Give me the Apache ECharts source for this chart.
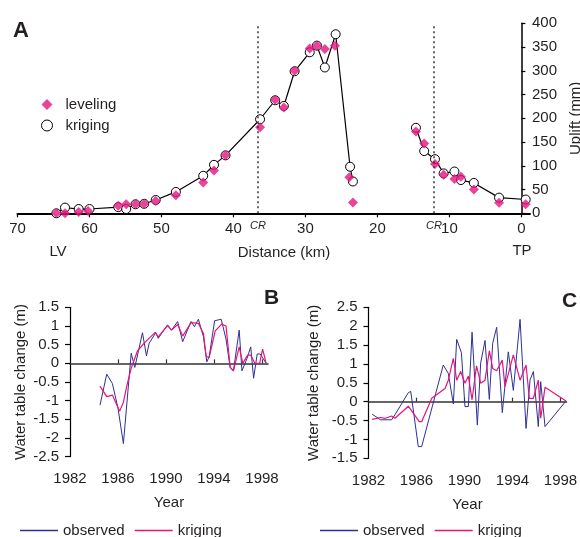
<!DOCTYPE html>
<html>
<head>
<meta charset="utf-8">
<script src="https://cdn.jsdelivr.net/npm/echarts@6/dist/echarts.min.js"></script>
<style>html,body{margin:0;padding:0;background:#fff}#c{width:580px;height:537px}</style>
</head>
<body>
<div id="c"></div>
<script>
// ---------- Panel A: uplift profile ----------
const distanceTicks = [0, 10, 20, 30, 40, 50, 60, 70];
const levelingKm = [64.6, 63.4, 61.5, 60.2, 56.0, 54.9, 53.6, 52.4, 50.8, 48.0, 44.2, 42.7, 41.1, 36.3, 34.2, 33.0, 31.5, 29.4, 28.4, 27.3, 25.9, 23.9, 23.4, 14.65, 13.5, 12.0, 10.8, 9.3, 8.4, 6.6, 3.1, -0.6];
const levelingMm = [0, 0, 3, 5, 16, 19, 19, 20, 26, 38, 65, 90, 122, 181, 239, 223, 300, 347, 353, 346, 353, 76, 23, 172, 147, 104, 81, 72, 77, 50, 22, 19];
const krigingWestKm = [64.6, 63.4, 61.5, 60.0, 56.0, 54.9, 53.6, 52.4, 50.8, 48.0, 44.2, 42.7, 41.1, 36.3, 34.2, 33.0, 31.5, 29.4, 28.4, 27.3, 25.8, 23.8, 23.4];
const krigingWestMm = [0, 12, 9, 9, 13, 9, 19, 20, 28, 45, 79, 102, 122, 198, 238, 226, 299, 339, 353, 307, 377, 98, 67];
const krigingEastKm = [14.65, 13.5, 12.0, 10.8, 9.3, 8.4, 6.6, 3.1, -0.6];
const krigingEastMm = [180, 131, 114, 84, 88, 70, 64, 33, 29];
const crKm = [36.6, 12.15];

// ---------- Panel B ----------
const yearTicks = [1982, 1986, 1990, 1994, 1998];
const zeroTicks = [1986, 1990, 1994, 1998];
const bObsYear = [1984.5, 1985.06, 1985.53, 1986.0, 1986.45, 1987.1, 1987.4, 1988.04, 1988.37, 1988.6, 1989.15, 1989.35, 1990.13, 1990.46, 1990.97, 1991.39, 1992.09, 1992.37, 1992.7, 1993.12, 1993.4, 1993.6, 1994.05, 1994.6, 1995.0, 1995.35, 1995.62, 1996.1, 1996.33, 1996.75, 1997.06, 1997.3, 1997.6, 1997.85, 1998.35];
const bObs = [-1.12, -0.29, -0.54, -1.2, -2.15, 0.27, -0.11, 0.82, 0.2, 0.54, 0.82, 0.67, 1.03, 0.89, 1.12, 0.58, 1.12, 0.98, 1.18, 0.71, 0.04, 0.18, 1.14, 1.18, 0.65, -0.12, -0.2, 0.89, -0.2, 0.13, 0.44, -0.4, 0.25, 0.25, 0];
const bKrigYear = [1984.5, 1985.06, 1985.53, 1986.14, 1986.45, 1986.73, 1987.1, 1987.62, 1988.18, 1989.1, 1989.35, 1990.13, 1990.46, 1990.97, 1991.39, 1992.09, 1992.7, 1993.12, 1993.35, 1993.6, 1994.1, 1994.64, 1995.0, 1995.35, 1995.62, 1996.1, 1996.4, 1996.8, 1997.06, 1997.4, 1997.8, 1998.05, 1998.35];
const bKrig = [-0.61, -0.89, -0.85, -1.28, -1.04, -0.61, -0.13, 0.33, 0.54, 0.83, 0.71, 1.01, 0.89, 1.04, 0.73, 1.09, 1.07, 0.8, 0.18, 0.16, 0.87, 1.05, 1.0, -0.1, -0.2, 0.44, 0, 0.22, 0.22, 0, 0, 0.38, 0];

// ---------- Panel C ----------
const cObsYear = [1982.3, 1983.0, 1983.93, 1984.2, 1985.32, 1985.52, 1986.15, 1986.43, 1988.23, 1988.65, 1989.07, 1989.35, 1989.74, 1990.04, 1990.32, 1990.63, 1991.07, 1991.35, 1991.71, 1992.07, 1992.35, 1992.68, 1993.15, 1993.65, 1994.07, 1994.63, 1995.13, 1995.46, 1995.74, 1996.15, 1996.35, 1996.71, 1998.46];
const cObs = [-0.33, -0.48, -0.48, -0.35, 0.24, 0.27, -1.19, -1.19, 0.97, 0.75, -0.06, 1.65, 1.3, -0.13, -0.13, 1.84, -0.62, 1.03, 1.62, 0.06, 1.55, 1.97, -0.29, 1.32, 0.3, 2.18, -0.71, 0.57, 0.8, -0.66, 0.53, -0.66, 0.02];
const cKrigYear = [1982.3, 1983.0, 1983.4, 1983.93, 1984.2, 1985.32, 1986.23, 1986.43, 1987.27, 1988.38, 1988.65, 1989.07, 1989.35, 1989.68, 1990.04, 1990.32, 1990.63, 1991.0, 1991.35, 1991.71, 1992.07, 1992.35, 1992.68, 1993.15, 1993.37, 1994.07, 1994.63, 1995.13, 1995.4, 1995.74, 1996.15, 1996.35, 1996.71, 1998.46];
const cKrig = [-0.47, -0.42, -0.44, -0.38, -0.44, -0.12, -0.53, -0.53, 0.09, 0.35, 0.57, 1.15, 0.57, 0.8, 0.49, 0.68, 0.05, 0.95, 0.49, 0.57, 1.35, 0.88, 0.82, 1.1, 0.4, 1.24, 0.57, 0.97, 0.09, 0.09, 0.57, -0.44, 0.38, 0.02];

const zip = (xs, ys) => xs.map((x, i) => [x, ys[i]]);
const FONT = "'Liberation Sans', Arial, Helvetica, sans-serif";
const TXT = '#231f20';
const PINK = '#e5147f';
const BLUE = '#2e3192';
const lab = {fontSize: 15, color: TXT, fontFamily: FONT};

const chart = echarts.init(document.getElementById('c'), null, {renderer: 'canvas'});

function yearAxes(grid) {
  return [
    {gridIndex: grid, type: 'value', min: 1982, max: 1998.5, position: 'bottom',
     axisLine: {show: false, onZero: false}, axisTick: {show: false}, splitLine: {show: false},
     axisLabel: Object.assign({customValues: yearTicks, margin: 15, formatter: v => String(v)}, lab),
     name: 'Year', nameLocation: 'middle', nameGap: 39, nameTextStyle: lab},
    {gridIndex: grid, type: 'value', min: 1982, max: 1998.5, position: 'top',
     axisLine: {show: true, onZero: true, lineStyle: {color: '#333', width: 1.5}},
     axisTick: {show: true, customValues: zeroTicks, length: 4, inside: false, lineStyle: {color: '#333', width: 1.2}},
     axisLabel: {show: false}, splitLine: {show: false}}
  ];
}
function waterAxis(grid, min, max, gap) {
  return {gridIndex: grid, type: 'value', min: min, max: max, interval: 0.5,
    axisLine: {show: true, onZero: false, lineStyle: {color: '#000', width: 1.2}},
    axisTick: {show: true, length: 5, lineStyle: {color: '#000', width: 1.2}},
    axisLabel: Object.assign({margin: 11}, lab), splitLine: {show: false},
    name: 'Water table change (m)', nameLocation: 'middle', nameRotate: 90, nameGap: gap, nameTextStyle: lab};
}
function lineLegend(left, names) {
  return {left: left, top: 518, itemWidth: 38, itemHeight: 1.5, itemGap: 10,
    textStyle: Object.assign({padding: [8, 0, 0, 0]}, lab),
    formatter: n => n.split(' ')[0],
    data: names.map((n, i) => ({name: n, icon: 'rect', itemStyle: {color: i === 0 ? BLUE : PINK}}))};
}

const option = {
  animation: false,
  backgroundColor: '#fff',
  textStyle: {fontFamily: FONT},
  grid: [
    {left: 17.5, top: 23.3, width: 512.5, height: 190, outerBoundsMode: 'none', containLabel: false},
    {left: 70, top: 307.3, width: 198, height: 149.4, outerBoundsMode: 'none', containLabel: false},
    {left: 368.5, top: 307.3, width: 198, height: 151, outerBoundsMode: 'none', containLabel: false}
  ],
  xAxis: [
    {gridIndex: 0, type: 'value', inverse: true, min: -1.2, max: 70,
     axisLine: {show: true, lineStyle: {color: '#000', width: 2}},
     axisTick: {show: true, customValues: distanceTicks, length: 4, lineStyle: {color: '#000', width: 1.2}},
     axisLabel: Object.assign({customValues: distanceTicks, margin: 8}, lab),
     splitLine: {show: false}}
  ].concat(yearAxes(1), yearAxes(2)),
  yAxis: [
    {gridIndex: 0, type: 'value', min: 0, max: 400, interval: 50, position: 'right',
     axisLine: {show: true, onZero: true, lineStyle: {color: '#000', width: 1.5}},
     axisTick: {show: true, length: 4, lineStyle: {color: '#000', width: 1.2}},
     axisLabel: Object.assign({margin: 2}, lab), splitLine: {show: false},
     name: 'Uplift (mm)', nameLocation: 'middle', nameRotate: 90, nameGap: 38, nameTextStyle: lab},
    waterAxis(1, -2.5, 1.5, 42),
    waterAxis(2, -1.5, 2.5, 47)
  ],
  legend: [
    {left: 36, top: 92, orient: 'vertical', itemGap: 6, itemWidth: 11, itemHeight: 11,
     textStyle: Object.assign({padding: [0, 0, 0, 8]}, lab),
     data: [{name: 'leveling', icon: 'diamond', itemStyle: {color: PINK}},
            {name: 'kriging', icon: 'circle', itemStyle: {color: '#fff', borderColor: '#000', borderWidth: 1}}]},
    lineLegend(15, ['observed B', 'kriging B']),
    lineLegend(315, ['observed C', 'kriging C'])
  ],
  series: [
    {name: 'kriging', type: 'line', xAxisIndex: 0, yAxisIndex: 0, z: 2,
     data: zip(krigingWestKm, krigingWestMm), symbol: 'circle', symbolSize: 9,
     itemStyle: {color: '#fff', borderColor: '#000', borderWidth: 1},
     lineStyle: {color: '#000', width: 1.2}},
    {name: 'kriging', type: 'line', xAxisIndex: 0, yAxisIndex: 0, z: 2,
     data: zip(krigingEastKm, krigingEastMm), symbol: 'circle', symbolSize: 9,
     itemStyle: {color: '#fff', borderColor: '#000', borderWidth: 1},
     lineStyle: {color: '#000', width: 1.2}},
    {name: 'leveling', type: 'scatter', xAxisIndex: 0, yAxisIndex: 0, z: 3,
     data: zip(levelingKm, levelingMm), symbol: 'diamond', symbolSize: 10,
     itemStyle: {color: PINK},
     markLine: {silent: true, symbol: 'none',
       lineStyle: {color: '#333', type: [2, 3], width: 1.5},
       label: {show: true, position: 'start', formatter: 'CR', fontSize: 11, fontStyle: 'italic', color: TXT, fontFamily: FONT, distance: 7},
       data: crKm.map(v => ({xAxis: v}))}},
    {name: 'observed B', type: 'line', xAxisIndex: 1, yAxisIndex: 1, symbol: 'none', z: 2,
     data: zip(bObsYear, bObs), itemStyle: {color: BLUE}, lineStyle: {color: BLUE, width: 1}},
    {name: 'kriging B', type: 'line', xAxisIndex: 1, yAxisIndex: 1, symbol: 'none', z: 3,
     data: zip(bKrigYear, bKrig), itemStyle: {color: PINK}, lineStyle: {color: PINK, width: 1.2}},
    {name: 'observed C', type: 'line', xAxisIndex: 3, yAxisIndex: 2, symbol: 'none', z: 2,
     data: zip(cObsYear, cObs), itemStyle: {color: BLUE}, lineStyle: {color: BLUE, width: 1}},
    {name: 'kriging C', type: 'line', xAxisIndex: 3, yAxisIndex: 2, symbol: 'none', z: 3,
     data: zip(cKrigYear, cKrig), itemStyle: {color: PINK}, lineStyle: {color: PINK, width: 1.2}}
  ],
  graphic: [
    {type: 'text', left: 13, top: 20, style: {text: 'A', font: "bold 22px " + FONT, fill: TXT}},
    {type: 'text', left: 264, top: 288, style: {text: 'B', font: "bold 21px " + FONT, fill: TXT}},
    {type: 'text', left: 562, top: 291, style: {text: 'C', font: "bold 21px " + FONT, fill: TXT}},
    {type: 'text', x: 284, y: 253, style: {text: 'Distance (km)', font: "15px " + FONT, fill: TXT, textAlign: 'center', textVerticalAlign: 'middle'}},
    {type: 'text', x: 58, y: 252, style: {text: 'LV', font: "15px " + FONT, fill: TXT, textAlign: 'center', textVerticalAlign: 'middle'}},
    {type: 'text', x: 522, y: 251, style: {text: 'TP', font: "15px " + FONT, fill: TXT, textAlign: 'center', textVerticalAlign: 'middle'}}
  ]
};
chart.setOption(option);
</script>
</body>
</html>
